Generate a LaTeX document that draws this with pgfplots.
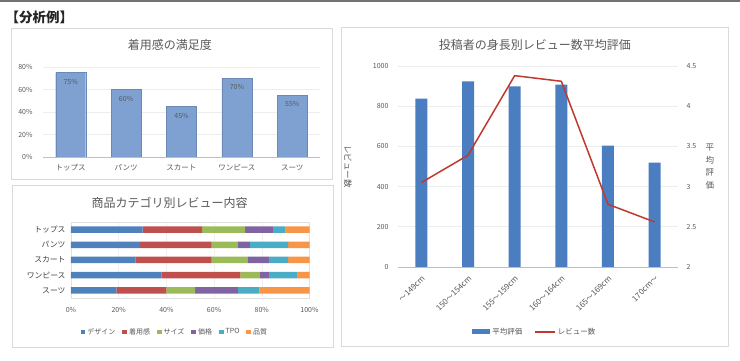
\documentclass[border=0pt]{standalone}
\usepackage{pgfplots}
\pgfplotsset{compat=1.18}
\usepackage{fontspec}
\setmainfont{Noto Sans CJK JP}
\definecolor{txt}{HTML}{595959}
\definecolor{bar1}{HTML}{7EA1D2}
\definecolor{bar3}{HTML}{4A7EC1}
\definecolor{line3}{HTML}{C0392E}
\definecolor{cA}{HTML}{4F81BD}
\definecolor{cB}{HTML}{C0504D}
\definecolor{cC}{HTML}{9BBB59}
\definecolor{cD}{HTML}{8064A2}
\definecolor{cE}{HTML}{4BACC6}
\definecolor{cF}{HTML}{F79646}
\definecolor{panel}{HTML}{D9D9D9}
\definecolor{gridc}{HTML}{EDEDED}
\pgfplotsset{
  every axis title/.style={anchor=center, text=txt, font=\fontsize{12}{14}\selectfont},
  base/.style={scale only axis, anchor=south west,
    /pgf/number format/assume math mode=true,
    /pgf/number format/1000 sep={},
    major tick length=0pt, tick style={draw=none},
    ticklabel style={text=txt, font=\fontsize{7}{8}\selectfont},
    grid style={color=gridc, line width=0.6pt},
  },
  sqleg/.style={legend image code/.code={\fill[##1] (0pt,-2.3pt) rectangle (4.6pt,2.3pt);}},
}
\begin{document}
\begin{tikzpicture}[x=1pt,y=1pt]
\useasboundingbox (0pt,0pt) rectangle (740pt,361pt);
\fill[white] (0pt,0pt) rectangle (740pt,361pt);
\draw[line width=2.5pt, color=black!55] (0pt,360pt) -- (740pt,360pt);
\node[anchor=west, text=black!85, font=\bfseries\fontsize{13.5}{15}\selectfont] at (2pt,344pt) {【分析例】};
\draw[panel, fill=white, line width=0.8pt] (11pt,182pt) rectangle (332pt,333pt);
\draw[panel, fill=white, line width=0.8pt] (12pt,14pt) rectangle (333pt,176pt);
\draw[panel, fill=white, line width=0.8pt] (341pt,15pt) rectangle (728pt,334pt);

% Chart 1
\begin{axis}[base, at={(43pt,204pt)}, width=277pt, height=90pt,
  ybar, bar width=30pt, ymin=0, ymax=80, xmin=-0.5, xmax=4.5,
  xtick={0,...,4}, xticklabels={トップス,パンツ,スカート,ワンピース,スーツ},
  xticklabel style={font=\fontsize{7.5}{8}\selectfont, yshift=-4pt},
  ytick={0,20,...,80}, yticklabel={\pgfmathprintnumber{\tick}\%},
  yticklabel style={xshift=-7pt},
  axis x line*=bottom, axis y line*=left,
  y axis line style={draw=none}, x axis line style={color=black!25},
  ymajorgrids,
  title={着用感の満足度}, title style={at={(axis description cs:0.458,1.244)}},
  nodes near coords={\pgfmathprintnumber{\pgfplotspointmeta}\%},
  nodes near coords style={anchor=north, yshift=-3pt, text=txt, font=\fontsize{7}{8}\selectfont},
  ]
\addplot[fill=bar1, draw=bar1!85!black, line width=0.3pt] coordinates {(0,75) (1,60) (2,45) (3,70) (4,55)};
\end{axis}

% Chart 2
\begin{axis}[base, at={(71pt,63pt)}, width=238.5pt, height=76pt,
  xbar stacked, bar width=6.5pt, xmin=0, xmax=100, ymin=-0.5, ymax=4.5, y dir=reverse,
  ytick={0,...,4}, yticklabels={トップス,パンツ,スカート,ワンピース,スーツ},
  yticklabel style={font=\fontsize{7.8}{8}\selectfont, text=black!75, xshift=-2pt},
  xtick={0,20,...,100}, xticklabel={\pgfmathprintnumber{\tick}\%},
  xticklabel style={yshift=-6pt},
  axis line style={color=black!12},
  xmajorgrids, grid style={color=black!6},
  title={商品カテゴリ別レビュー内容}, title style={at={(axis description cs:0.414,1.25)}},
  legend style={at={(axis description cs:0.436,-0.447)}, anchor=center, draw=none, fill=none,
    font=\fontsize{7}{8}\selectfont, text=txt, legend columns=6,
    /tikz/every even column/.append style={column sep=5pt}},
  ]
\addplot[sqleg, fill=cA, draw=none] coordinates {(30,0) (29,1) (27,2) (38,3) (19,4)};
\addplot[sqleg, fill=cB, draw=none] coordinates {(25,0) (30,1) (32,2) (33,3) (21,4)};
\addplot[sqleg, fill=cC, draw=none] coordinates {(18,0) (11,1) (15,2) (8,3) (12,4)};
\addplot[sqleg, fill=cD, draw=none] coordinates {(12,0) (5,1) (9,2) (4,3) (18,4)};
\addplot[sqleg, fill=cE, draw=none] coordinates {(5,0) (16,1) (8,2) (12,3) (9,4)};
\addplot[sqleg, fill=cF, draw=none] coordinates {(10,0) (9,1) (9,2) (5,3) (21,4)};
\legend{デザイン,着用感,サイズ,価格,TPO,品質}
\end{axis}

% Chart 3 (left axis: bars)
\begin{axis}[base, at={(398pt,94pt)}, width=280pt, height=201pt,
  ybar, bar width=12pt, ymin=0, ymax=1000, xmin=-0.5, xmax=5.5,
  xtick={0,...,5}, xticklabels={～149cm,150～154cm,155～159cm,160～164cm,165～169cm,170cm～},
  xticklabel style={xshift=4.5pt, yshift=-7.5pt, rotate=45, anchor=east, font=\fontsize{8}{9}\selectfont},
  ytick={0,200,...,1000}, yticklabel style={xshift=-6pt},
  axis x line*=bottom, axis y line*=left,
  y axis line style={draw=none}, x axis line style={color=black!25},
  ymajorgrids,
  ylabel={レビュー数}, ylabel style={rotate=180, at={(axis description cs:-0.179,0.5)}, anchor=center, text=txt, font=\fontsize{8.5}{9}\selectfont},
  title={投稿者の身長別レビュー数平均評価}, title style={at={(axis description cs:0.489,1.104)}},
  legend style={at={(axis description cs:0.489,-0.323)}, anchor=center, draw=none, fill=none,
    font=\fontsize{7.5}{8}\selectfont, text=txt, legend columns=2,
    /tikz/every even column/.append style={column sep=10pt}},
  ]
\addplot[fill=bar3, draw=none, legend image code/.code={\fill[bar3] (0pt,-2.5pt) rectangle (18pt,2.5pt);}]
  coordinates {(0,838) (1,924) (2,899) (3,907) (4,604) (5,519)};
\addlegendentry{平均評価}
\addlegendimage{legend image code/.code={\draw[line3, line width=1.5pt] (0pt,0pt) -- (20pt,0pt);}}
\addlegendentry{レビュー数}
\end{axis}

% Chart 3 (right axis: line)
\begin{axis}[base, at={(398pt,94pt)}, width=280pt, height=201pt,
  ymin=2, ymax=4.5, xmin=-0.5, xmax=5.5,
  axis x line=none, axis y line*=right, y axis line style={draw=none},
  ytick={2,2.5,...,4.5}, yticklabel style={xshift=5pt},
  ylabel={平\\均\\評\\価}, ylabel style={align=center, rotate=-90, at={(axis description cs:1.114,0.5)}, anchor=center, text=txt, font=\fontsize{8.5}{12.5}\selectfont},
  ]
\addplot[line3, line width=1.5pt, mark=none] coordinates {(0,3.05) (1,3.39) (2,4.38) (3,4.31) (4,2.78) (5,2.56)};
\end{axis}
\end{tikzpicture}
\end{document}
